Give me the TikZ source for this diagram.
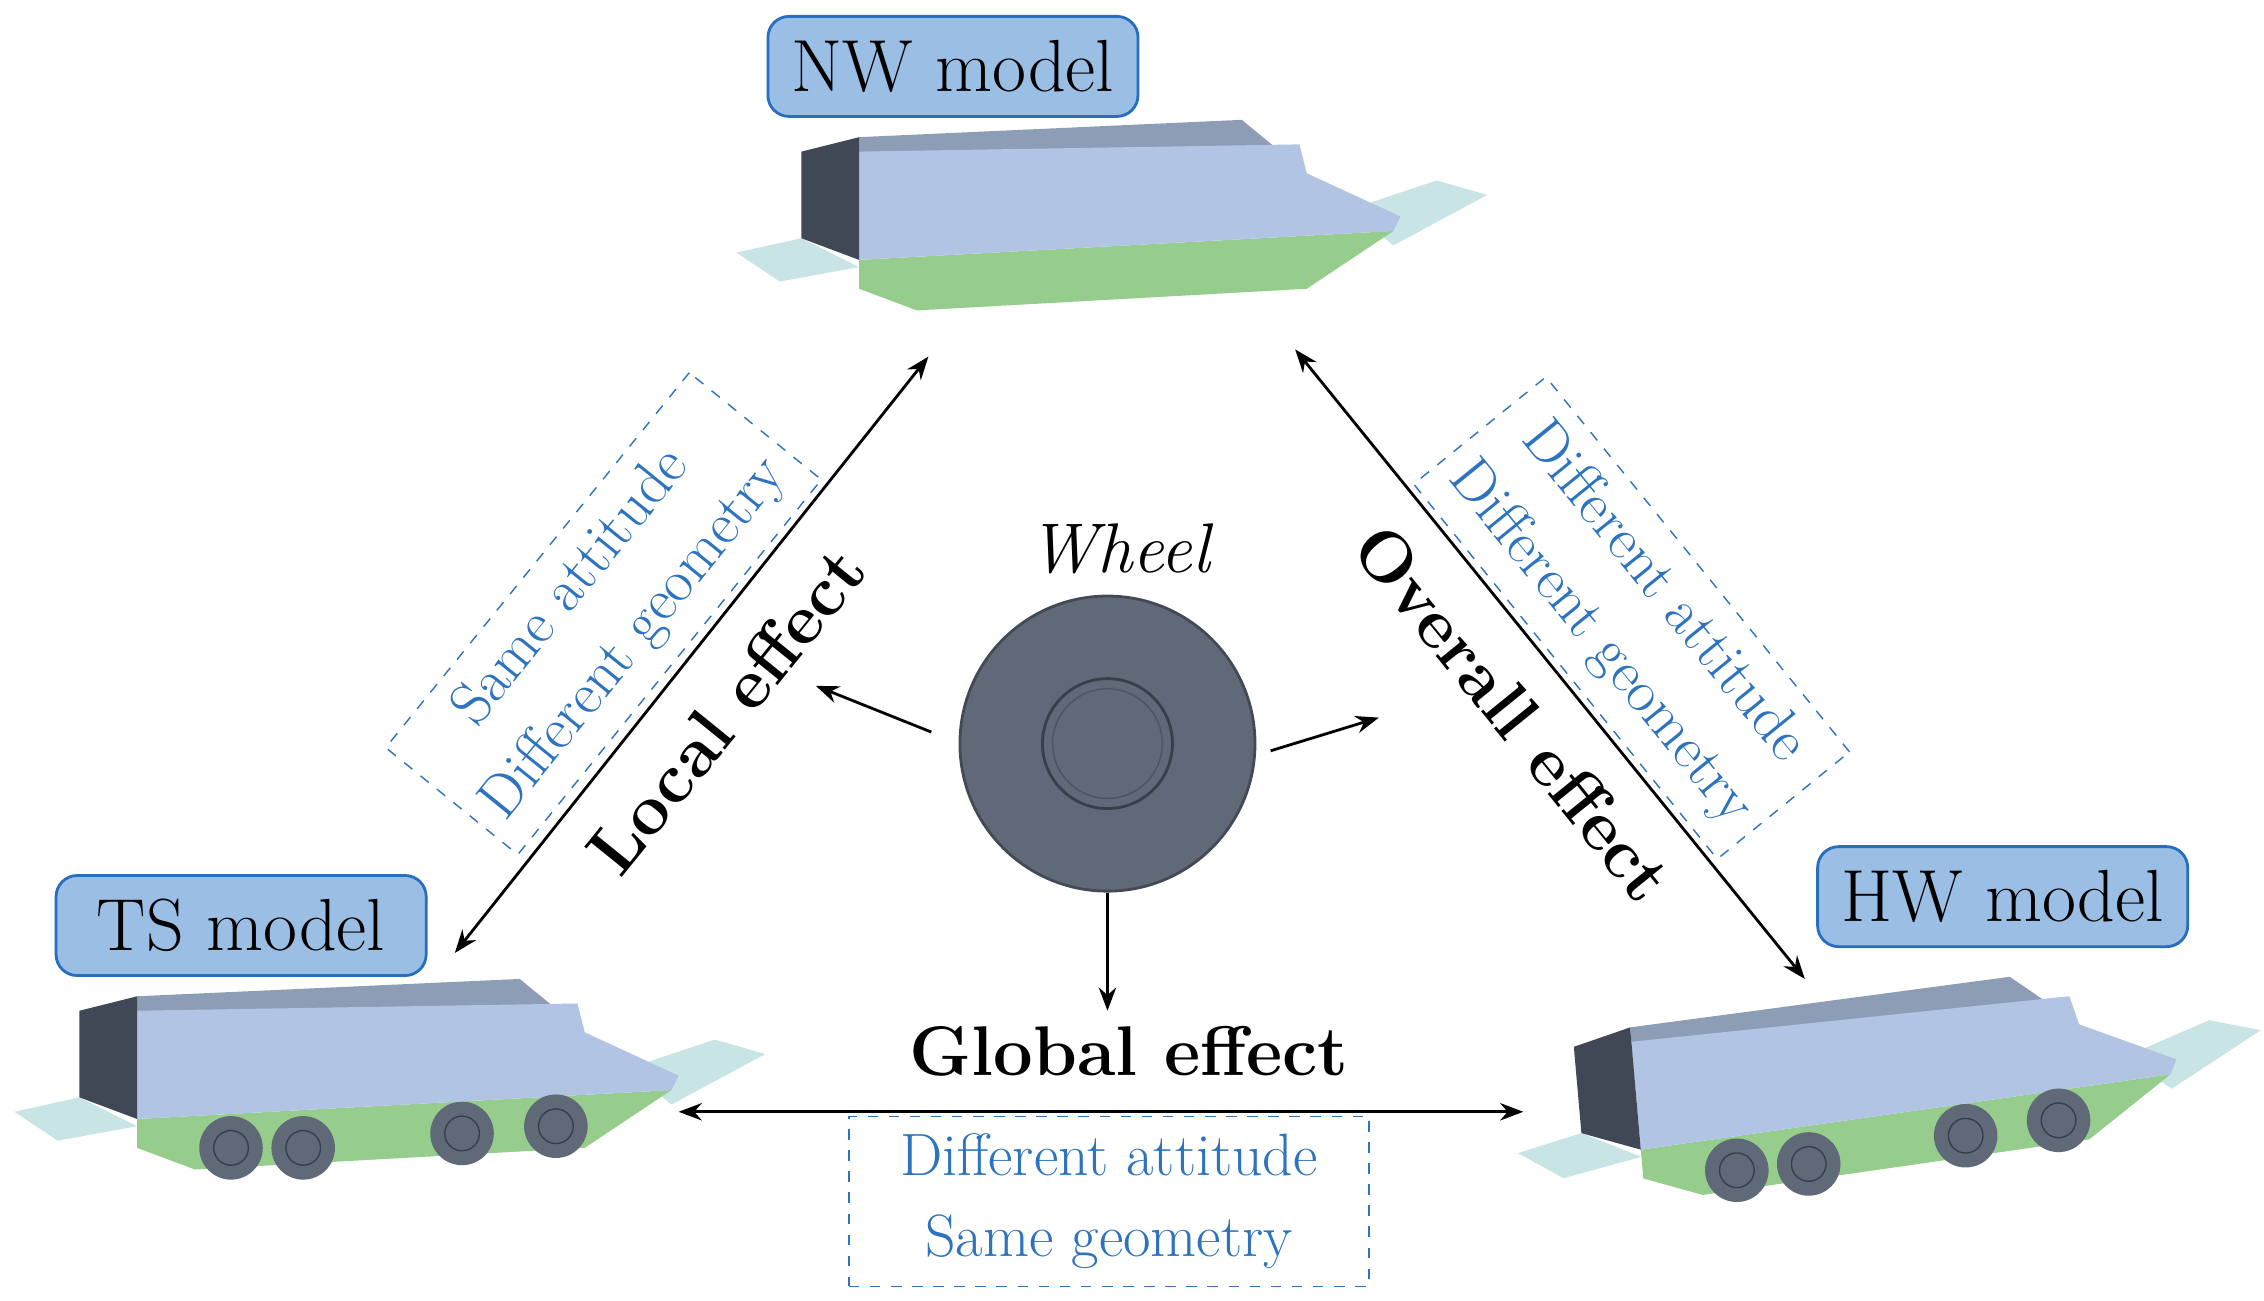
\documentclass[tikz,border=0pt]{standalone}
\usepackage{tikz}
\usetikzlibrary{positioning, calc, arrows.meta}
\definecolor{boxblue}{RGB}{155,190,228}
\definecolor{lineblue}{RGB}{40,110,190}
\definecolor{txtblue}{RGB}{45,115,190}
\definecolor{topblue}{RGB}{178,196,228}
\definecolor{hullgreen}{RGB}{150,205,140}
\definecolor{frontdark}{RGB}{65,72,85}
\definecolor{finblue}{RGB}{200,228,228}
\definecolor{wheelgray}{RGB}{95,105,120}
\tikzset{
  model/.style={rectangle, rounded corners=6pt, draw=lineblue, thick, fill=boxblue, minimum width=3.7cm, minimum height=1cm, font=\fontsize{21}{25}\selectfont},
  note/.style={draw=txtblue, dashed, text=txtblue, align=center, font=\fontsize{17}{23}\selectfont, inner sep=5pt},
  effect/.style={font=\bfseries\fontsize{20}{24}\selectfont},
  arrow/.style={thick,-{Stealth}},
  biarrow/.style={thick,{Stealth}-{Stealth}},
  pics/vehicle/.style={code={
    \fill[finblue] (-45,70) -- (0,60) -- (40,80) -- (-15,90) -- cycle;
    \fill[finblue] (380,40) -- (440,20) -- (475,30) -- (410,65) -- cycle;
    \fill[hullgreen] (40,75) -- (410,55) -- (350,95) -- (80,110) -- (40,95) -- cycle;
    \fill[topblue!80!black] (305,-22) -- (350,15) -- (350,22) -- (40,25) -- (40,-10) -- cycle;
    \fill[topblue] (40,0) -- (345,-5) -- (350,15) -- (415,45) -- (410,55) -- (40,75) -- cycle;
    \fill[frontdark] (0,0) -- (40,-10) -- (40,75) -- (0,60) -- cycle;
  }},
  pics/wheels/.style={code={
    \foreach \wx/\wy in {105/95,155/95,265/85,330/80}{
      \fill[wheelgray] (\wx,\wy) circle (22);
      \draw[wheelgray!60!black] (\wx,\wy) circle (12);
    }
  }}
}
\begin{document}
\begin{tikzpicture}[x=0.01444cm, y=-0.01444cm]
\useasboundingbox (0,0) rectangle (1568,901);

% vehicles
\pic at (555,105) {vehicle};
\pic at (55,700) {vehicle};
\pic at (55,700) {wheels};
\pic[rotate=5] at (1090,725) {vehicle};
\pic[rotate=5] at (1090,725) {wheels};

% labels
\node (nw) [model] at (660,46) {NW model};
\node (ts) [model] at (167,641) {TS model};
\node (hw) [model] at (1387,621) {HW model};

% wheel
\node (wlabel) at (775,380) {\fontsize{20}{24}\selectfont\itshape Wheel};
\node (wheel) [circle, minimum size=2.95cm, fill=wheelgray, draw=wheelgray!70!black, thick] at (767,515) {};
\draw[wheelgray!60!black, thick] (wheel.center) circle (45);
\draw[wheelgray!80!black] (wheel.center) circle (38);

\coordinate (tsA) at (315,660);
\coordinate (nwL) at (643,247);
\coordinate (nwR) at (897,242);
\coordinate (hwA) at (1250,678);
\coordinate (tsB) at (470,770);
\coordinate (hwB) at (1055,770);
\draw[biarrow] (tsA) -- (nwL);
\draw[biarrow] (nwR) -- (hwA);
\draw[biarrow] (tsB) -- (hwB);

\coordinate (lTip) at (565,475);
\coordinate (rTip) at (955,497);
\coordinate (dTip) at (767,700);
\draw[arrow] (645,507) -- (lTip);
\draw[arrow] (880,520) -- (rTip);
\draw[arrow] (wheel.south) -- (dTip);

% effects
\node (local) [effect, rotate=51] at (503,492) {Local effect};
\node (overall) [effect, rotate=-51] at (1048,494) {Overall effect};
\node (global) [effect] at (782,728) {Global effect};

\node (sameatt) [note, rotate=51] at (418,425) {Same attitude\\Different geometry};
\node (diffatt) [note, rotate=-51] at (1130,428) {Different attitude\\Different geometry};
\node (diffsame) [note, minimum width=5.2cm] at (768,832) {Different attitude\\Same geometry};
\end{tikzpicture}
\end{document}
